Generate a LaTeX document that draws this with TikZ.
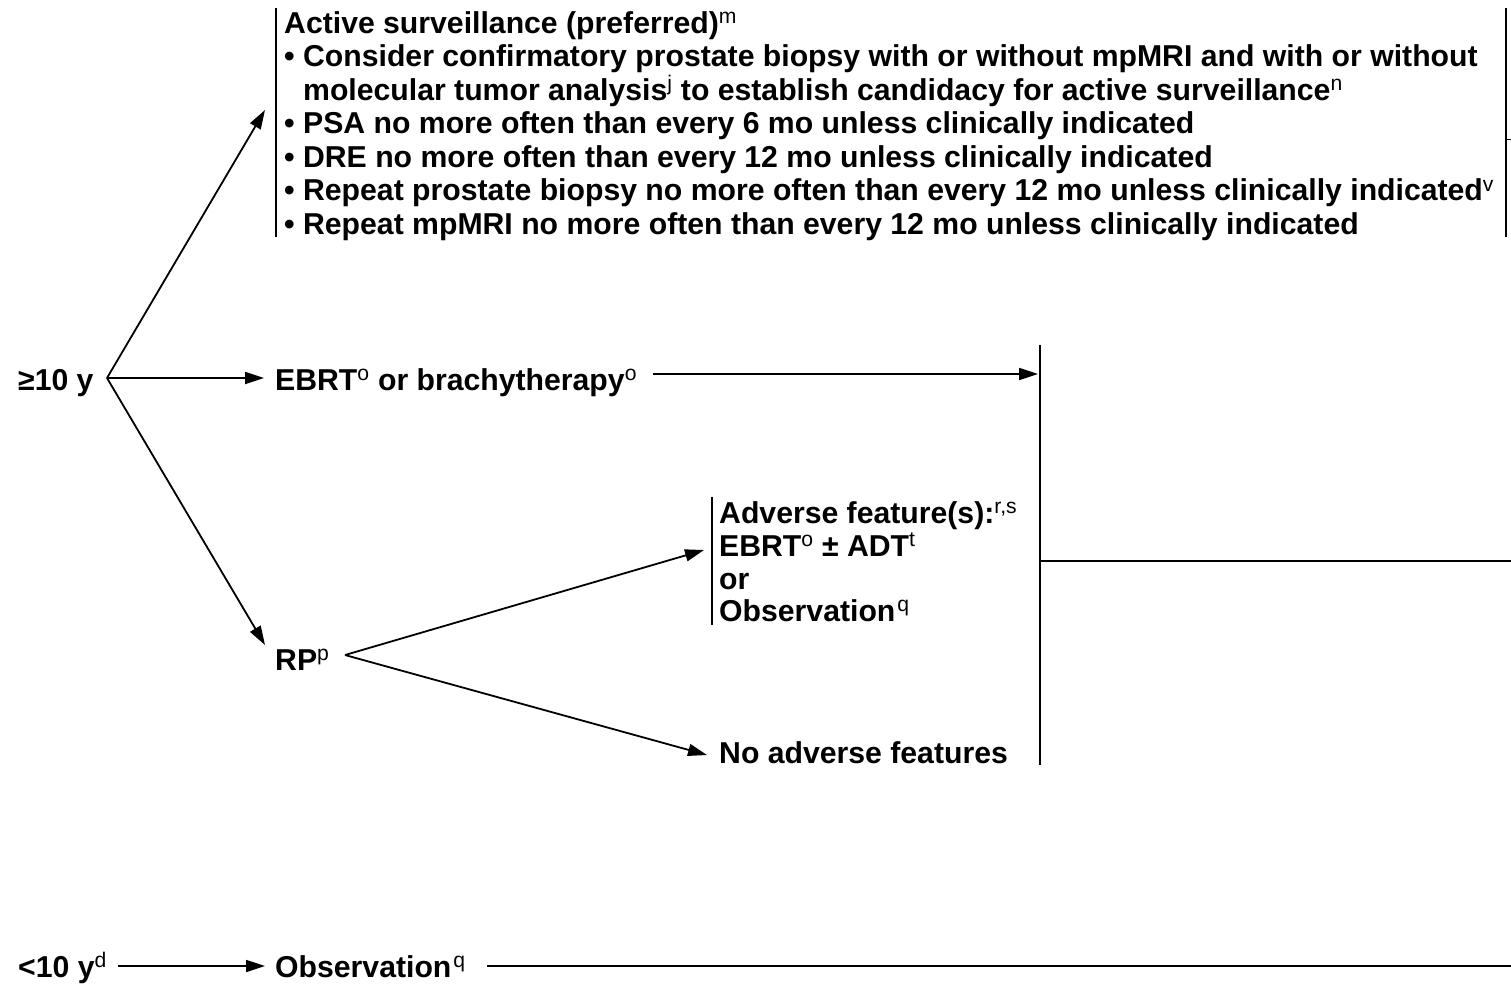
\documentclass[tikz,border=0pt]{standalone}
\usepackage{fontspec}
\setmainfont{Liberation Sans}
\usetikzlibrary{arrows.meta}
% footnote markers: raised, smaller and in regular weight
\newcommand{\fnmark}[1]{\textsuperscript{\mdseries #1}}
\begin{document}
\begin{tikzpicture}[x=1pt,y=-1pt,
  txt/.style={anchor=base west, inner sep=0pt, font=\fontsize{30.2}{33.5}\selectfont\bfseries},
  link/.style={line width=1.8pt, line cap=butt},
  arr/.style={link, -{Triangle[length=19pt,width=12pt]}},
  bar/.style={line width=1.8pt}]
\useasboundingbox (0,0) rectangle (1511,983);
\fill[white] (0,0) rectangle (1511,983);

% active surveillance block
\node[txt] (as1) at (284,33)  {Active surveillance (preferred)\fnmark{m}};
\node[txt] (as2) at (284,66.5) {\textbullet\ Consider confirmatory prostate biopsy with or without mpMRI and with or without};
\node[txt] (as3) at (284,100) {\hphantom{\textbullet\ }molecular tumor analysis\fnmark{j} to establish candidacy for active surveillance\fnmark{n}};
\node[txt] (as4) at (284,133.5) {\textbullet\ PSA no more often than every 6 mo unless clinically indicated};
\node[txt] (as5) at (284,167) {\textbullet\ DRE no more often than every 12 mo unless clinically indicated};
\node[txt] (as6) at (284,200.5) {\textbullet\ Repeat prostate biopsy no more often than every 12 mo unless clinically indicated\fnmark{v}};
\node[txt] (as7) at (284,234) {\textbullet\ Repeat mpMRI no more often than every 12 mo unless clinically indicated};
\draw[bar] (276,8) -- (276,237);
\draw[bar] (1506,8) -- (1506,237);
\draw[line width=1pt] (1507,139) -- (1511,139);

% life expectancy at least 10 years
\node[txt] (ge10) at (18,390) {≥10 y};
\coordinate (f1) at (107,378);
\node[txt] (ebrt) at (275,390) {EBRT\fnmark{o} or brachytherapy\fnmark{o}};
\node[txt] (rp) at (275,670) {RP\fnmark{p}};
\coordinate (tas) at (265,110);
\coordinate (tebrt) at (264,378);
\coordinate (trp) at (265,645);
\draw[arr] (f1) -- (tas);
\draw[arr] (f1) -- (tebrt);
\draw[arr] (f1) -- (trp);

% outcome of EBRT
\coordinate (ebrtout) at (653,374);
\coordinate (join) at (1038,374);
\draw[arr] (ebrtout) -- (join);

% radical prostatectomy branches
\coordinate (f2) at (345,655);
\node[txt] (adv1) at (719,523) {Adverse feature(s):\fnmark{r,s}};
\node[txt] (adv2) at (719,556) {EBRT\fnmark{o} ± ADT\fnmark{t}};
\node[txt] (adv3) at (719,589) {or};
\node[txt] (adv4) at (719,621) {Observation\kern2pt\fnmark{q}};
\draw[bar] (712,497) -- (712,625);
\node[txt] (noadv) at (719,763) {No adverse features};
\coordinate (tadv) at (704,550);
\coordinate (tnoadv) at (707,755);
\draw[arr] (f2) -- (tadv);
\draw[arr] (f2) -- (tnoadv);

% collecting bracket
\draw[bar] (1040,345) -- (1040,765);
\draw[link] (1040,561) -- (1511,561);

% life expectancy under 10 years
\node[txt] (lt10) at (18,977) {<10 y\fnmark{d}};
\node[txt] (obs) at (275,977) {Observation\kern2pt\fnmark{q}};
\coordinate (lt10out) at (118,966);
\coordinate (tobs) at (265,966);
\draw[arr] (lt10out) -- (tobs);
\coordinate (obsout) at (487,966);
\coordinate (obsend) at (1511,966);
\draw[link] (obsout) -- (obsend);
\end{tikzpicture}
\end{document}
